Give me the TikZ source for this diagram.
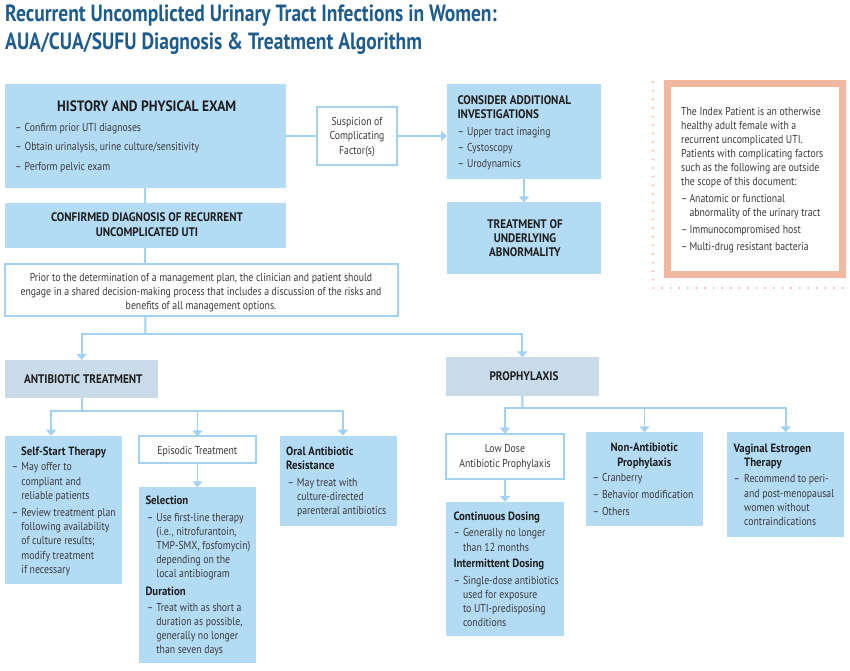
\documentclass[tikz,border=0pt]{standalone}
\usepackage{fontspec}
\setmainfont{PT Sans}[FakeStretch=0.85, BoldFeatures={FakeStretch=0.9}]
\newfontfamily\titlefont{PT Sans}[FakeStretch=0.83]
\newfontfamily\capsfont{PT Sans}[FakeStretch=0.9]
\usetikzlibrary{arrows.meta}
\definecolor{boxblue}{HTML}{B3DBF3}
\definecolor{boxgray}{HTML}{C9DBE8}
\definecolor{linkblue}{HTML}{A3D2F0}
\definecolor{salmon}{HTML}{F0B8A0}
\definecolor{titleblue}{HTML}{1F5C8B}
\definecolor{bodytext}{HTML}{3A3A3A}
\definecolor{headtext}{HTML}{1E1E1E}
\newcommand\dd{\makebox[9.5pt][l]{–}}
\newcommand\ci{\hspace*{9.5pt}}
\newcommand\TL[1]{\begin{tabular}[t]{@{}l@{}}#1\end{tabular}}
\newcommand\TC[1]{\begin{tabular}[t]{@{}c@{}}#1\end{tabular}}
\tikzset{
  boxbase/.style={anchor=north west, inner sep=0pt, outer sep=0pt},
  bluebox/.style={boxbase, fill=boxblue},
  graybox/.style={boxbase, fill=boxgray},
  whitebox/.style={boxbase, fill=white, draw=linkblue, line width=1.8pt},
  body/.style={text=bodytext, font=\fontsize{11.5}{14.3}\selectfont, inner sep=0pt, anchor=base west},
  bodyc/.style={body, anchor=base},
  head/.style={text=headtext, font=\bfseries\fontsize{12}{14.3}\selectfont, inner sep=0pt, anchor=base west},
  headc/.style={head, anchor=base},
  caps/.style={text=headtext, font=\capsfont\bfseries\fontsize{12.4}{14.3}\selectfont, inner sep=0pt, anchor=base},
  link/.style={draw=linkblue, line width=1.8pt},
  arr/.style={link, -{Triangle[width=10pt,length=6pt]}},
}
\begin{document}
\begin{tikzpicture}[x=1pt,y=-1pt]
\useasboundingbox (0,0) rectangle (850,670);
% title
\node[anchor=base west, font=\titlefont\bfseries\fontsize{23.5}{28}\selectfont, text=titleblue, inner sep=0pt] (title) at (5,21)
  {\TL{Recurrent Uncomplicted Urinary Tract Infections in Women:\\AUA/CUA/SUFU Diagnosis \& Treatment Algorithm}};

% boxes
\node[bluebox, minimum width=280.7pt, minimum height=103.7pt] (hist) at (5,84) {};
\node[whitebox, minimum width=80.6pt, minimum height=58pt] (susp) at (316.7,107) {};
\node[bluebox, minimum width=154pt, minimum height=94.7pt] (cons) at (447,84.3) {};
\node[bluebox, minimum width=154pt, minimum height=72pt] (treat) at (447,202.3) {};
\node[bluebox, minimum width=280.7pt, minimum height=45pt] (conf) at (5,202.7) {};
\node[whitebox, minimum width=392.7pt, minimum height=52pt] (shared) at (5,264) {};
\node[graybox, minimum width=153.3pt, minimum height=38.3pt] (anti) at (5,360) {};
\node[graybox, minimum width=153.3pt, minimum height=38.4pt] (proph) at (445.7,357.3) {};
\node[bluebox, minimum width=117.3pt, minimum height=148.3pt] (self) at (5,435.7) {};
\node[whitebox, minimum width=117pt, minimum height=27pt] (epi) at (139,436.3) {};
\node[bluebox, minimum width=117pt, minimum height=176pt] (sel) at (139,487.3) {};
\node[bluebox, minimum width=116.7pt, minimum height=90pt] (oral) at (280,435.7) {};
\node[whitebox, minimum width=118pt, minimum height=45pt] (low) at (446,433.7) {};
\node[bluebox, minimum width=117.4pt, minimum height=134.3pt] (cont) at (446.3,502) {};
\node[bluebox, minimum width=117pt, minimum height=93.4pt] (nonab) at (586,432.3) {};
\node[bluebox, minimum width=117.3pt, minimum height=104.4pt] (vag) at (727,432.3) {};

% index patient box
\draw[salmon, line width=2.2pt, line cap=round, dash pattern=on 0pt off 8.6pt] (653,82) -- (653,288) -- (846,288);
\node[boxbase, fill=white, draw=salmon, line width=7pt, minimum width=174.5pt, minimum height=191.5pt] (index) at (667.5,83) {};

% texts
\node[caps, font=\capsfont\bfseries\fontsize{15}{16}\selectfont] (histT) at (146.7,111.5) {HISTORY AND PHYSICAL EXAM};
\node[body, font=\fontsize{11.5}{14.3}\selectfont] (histB) at (15,131.5)
  {\TL{\dd Confirm prior UTI diagnoses\\[5pt]\dd Obtain urinalysis, urine culture/sensitivity\\[5pt]\dd Perform pelvic exam}};
\node[bodyc, font=\fontsize{11.5}{14.5}\selectfont] (suspT) at (357,125) {\TC{Suspicion of\\Complicating\\Factor(s)}};
\node[head, font=\capsfont\bfseries\fontsize{12.4}{14}\selectfont] (consT) at (457.3,104.3) {\TL{CONSIDER ADDITIONAL\\INVESTIGATIONS}};
\node[body, font=\fontsize{11.5}{16}\selectfont] (consB) at (457.3,135) {\TL{\dd Upper tract imaging\\\dd Cystoscopy\\\dd Urodynamics}};
\node[caps] (treatT) at (525,228.3) {\TC{TREATMENT OF\\UNDERLYING\\ABNORMALITY}};
\node[caps] (confT) at (147,221.7) {\TC{CONFIRMED DIAGNOSIS OF RECURRENT\\UNCOMPLICATED UTI}};
\node[bodyc, font=\fontsize{11.5}{14}\selectfont] (sharedT) at (201,281)
  {\TC{Prior to the determination of a management plan, the clinician and patient should\\engage in a shared decision-making process that includes a discussion of the risks and\\benefits of all management options.}};
\node[caps] (antiT) at (83.3,383.3) {ANTIBIOTIC TREATMENT};
\node[caps] (prophT) at (524,380.7) {PROPHYLAXIS};

\node[head] (selfT) at (21,455) {Self-Start Therapy};
\node[body] (selfB) at (11.7,470.7)
  {\TL{\dd May offer to\\\ci compliant and\\\ci reliable patients\\[2.7pt]\dd Review treatment plan\\\ci following availability\\\ci of culture results;\\\ci modify treatment\\\ci if necessary}};
\node[bodyc] (epiT) at (197.3,454) {Episodic Treatment};
\node[head] (selT) at (145.3,504.3) {Selection};
\node[body, font=\fontsize{11.5}{14}\selectfont] (selB) at (146.7,521.7)
  {\TL{\dd Use first-line therapy\\\ci (i.e., nitrofurantoin,\\\ci TMP-SMX, fosfomycin)\\\ci depending on the\\\ci local antibiogram}};
\node[head] (durT) at (145.3,595) {Duration};
\node[body, font=\fontsize{11.5}{14.1}\selectfont] (durB) at (146.7,611)
  {\TL{\dd Treat with as short a\\\ci duration as possible,\\\ci generally no longer\\\ci than seven days}};
\node[head, font=\bfseries\fontsize{12}{14}\selectfont] (oralT) at (286,455) {\TL{Oral Antibiotic\\Resistance}};
\node[body, font=\fontsize{11.5}{14}\selectfont] (oralB) at (287.3,486)
  {\TL{\dd May treat with\\\ci culture-directed\\\ci parenteral antibiotics}};

\node[bodyc, font=\fontsize{11.5}{14.6}\selectfont] (lowT) at (505,452.7) {\TC{Low Dose\\Antibiotic Prophylaxis}};
\node[head] (contT) at (453.3,520) {Continuous Dosing};
\node[body] (contB) at (453.3,536.7) {\TL{\dd Generally no longer\\\ci than 12 months}};
\node[head] (intT) at (453.3,567.3) {Intermittent Dosing};
\node[body] (intB) at (453.3,584)
  {\TL{\dd Single-dose antibiotics\\\ci used for exposure\\\ci to UTI-predisposing\\\ci conditions}};
\node[headc] (nonabT) at (644.3,451.7) {\TC{Non-Antibiotic\\Prophylaxis}};
\node[body, font=\fontsize{11.5}{17}\selectfont] (nonabB) at (592.3,481.7)
  {\TL{\dd Cranberry\\\dd Behavior modification\\\dd Others}};
\node[head, font=\bfseries\fontsize{12}{14}\selectfont] (vagT) at (733.3,452.7) {\TL{Vaginal Estrogen\\\hspace*{10.7pt}Therapy}};
\node[body] (vagB) at (733.3,482.7)
  {\TL{\makebox[10.7pt][l]{–}Recommend to peri-\\\hspace*{10.7pt}and post-menopausal\\\hspace*{10.7pt}women without\\\hspace*{10.7pt}contraindications}};

\node[body, font=\fontsize{11.5}{14}\selectfont] (indexT) at (681,115.7)
  {\TL{The Index Patient is an otherwise\\healthy adult female with a\\recurrent uncomplicated UTI.\\Patients with complicating factors\\such as the following are outside\\the scope of this document:\\[3pt]
   \makebox[8.3pt][l]{–}Anatomic or functional\\\hspace*{8.3pt}abnormality of the urinary tract\\[2.6pt]
   \makebox[8.3pt][l]{–}Immunocompromised host\\[2.7pt]
   \makebox[8.3pt][l]{–}Multi-drug resistant bacteria}};

% connectors
\draw[link] (hist.east) -- (susp.west);
\draw[arr] (susp.east) -- (susp.east -| cons.west);
\draw[arr] (cons.south) -- (treat.north);
\draw[link] (hist.south) -- (conf.north);
\draw[link] (conf.south) -- (conf.south |- shared.north);
\coordinate (split1) at (145.35,334.3);
\draw[link] (conf.south |- shared.south) -- (split1);
\draw[arr] (split1) -| (anti.north);
\draw[arr] (split1) -| (proph.north);
\coordinate (split2) at (81.65,410.7);
\draw[link] (anti.south) -- (split2);
\draw[arr] (split2) -| ([xshift=-12.5pt]self.north);
\draw[arr] (split2) -| (epi.north);
\draw[arr] (split2) -| ([xshift=4.5pt]oral.north);
\draw[arr] (epi.south) -- (sel.north);
\coordinate (split3) at (522.35,407.7);
\draw[link] (proph.south) -- (split3);
\draw[arr] (split3) -| (low.north);
\draw[arr] (split3) -| (nonab.north);
\draw[arr] (split3) -| (vag.north);
\draw[arr] (low.south) -- (cont.north);
\end{tikzpicture}
\end{document}
